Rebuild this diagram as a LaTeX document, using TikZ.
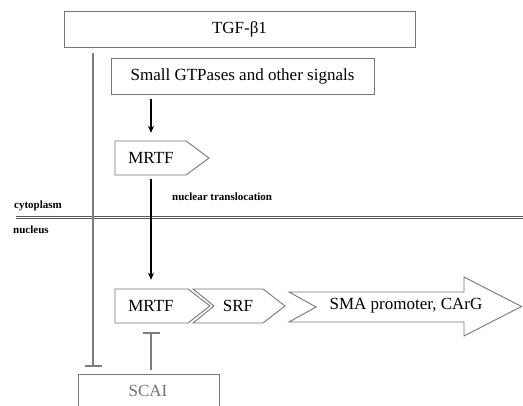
\documentclass[tikz,border=0pt]{standalone}
\usepackage{fontspec}
\setmainfont{Liberation Serif}
\usetikzlibrary{arrows.meta}
\definecolor{edge}{RGB}{118,118,118}
\definecolor{inhib}{RGB}{125,125,125}
\definecolor{membrane}{RGB}{90,90,90}
\tikzset{
  outline/.style={draw=edge, line width=0.9pt, fill=white},
  label17/.style={font=\fontsize{17}{19}\selectfont, inner sep=0pt},
  tag/.style={font=\fontsize{11}{12}\selectfont\bfseries, inner sep=0pt, anchor=base west},
  activate/.style={line width=1.4pt, -{Stealth[length=7pt,width=6pt]}},
  inhibit/.style={draw=inhib, line width=2.2pt, -{Bar[width=17pt,line width=2.2pt]}},
}
\begin{document}
\begin{tikzpicture}[x=1pt,y=-1pt]
\useasboundingbox (0,0) rectangle (523,406);
\clip (0,0) rectangle (523,406);

% membrane between cytoplasm and nucleus
\coordinate (memL) at (16,217.5);
\coordinate (memR) at (530,217.5);
\draw[membrane, line width=2.6pt] (memL) -- (memR);
\draw[white, line width=0.9pt] (memL) -- (memR);

% boxes
\node[outline, label17, minimum width=351pt, minimum height=36pt] (tgf) at (239.5,29) {TGF-β1};
\node[outline, label17, minimum width=263pt, minimum height=36pt] (gtp) at (242.5,76) {Small GTPases and other signals};

% MRTF in the cytoplasm
\draw[outline] (115,141) -- (186,141) -- (209,158) -- (186,175) -- (115,175) -- cycle;
\node[label17, minimum height=34pt] (mrtfA) at (151,158) {MRTF};

% MRTF / SRF / SMA promoter in the nucleus
\draw[outline] (115,289) -- (188,289) -- (210,306) -- (188,323) -- (115,323) -- cycle;
\node[label17, minimum height=34pt] (mrtfB) at (151,306) {MRTF};
\draw[outline] (193,289) -- (263,289) -- (285,306) -- (263,323) -- (193,323) -- (214,306) -- cycle;
\node[label17] (srf) at (238,306) {SRF};
\draw[outline] (289,292) -- (464,292) -- (464,277) -- (521.5,306.5) -- (464,336) -- (464,322) -- (289,322) -- (316,307) -- cycle;
\node[label17] (sma) at (406,306) {SMA promoter, CArG};

% SCAI
\node[draw=edge, line width=0.9pt, minimum width=141pt, minimum height=44pt, anchor=north west] (scaibox) at (78,374) {};
\node[label17, text=gray!90!black] (scai) at (148,391) {SCAI};

% compartment labels
\node[tag] (cyto) at (14,209) {cytoplasm};
\node[tag] (nucl) at (13,234) {nucleus};
\node[tag] (trans) at (172,201) {nuclear translocation};

% inhibition by TGF-beta1 and by SCAI
\coordinate (tgfline) at (93,0);
\draw[inhibit, shorten <=6pt, shorten >=7pt] (tgf.south -| tgfline) -- (scaibox.north -| tgfline);
\draw[inhibit, shorten <=4pt, shorten >=9pt] (scaibox.north -| mrtfB) -- (mrtfB.south);

% activation arrows
\draw[activate, shorten <=5pt, shorten >=8pt] (gtp.south -| mrtfA) -- (mrtfA.north);
\draw[activate, shorten <=4pt, shorten >=9pt] (mrtfA.south) -- (mrtfB.north);
\end{tikzpicture}
\end{document}
